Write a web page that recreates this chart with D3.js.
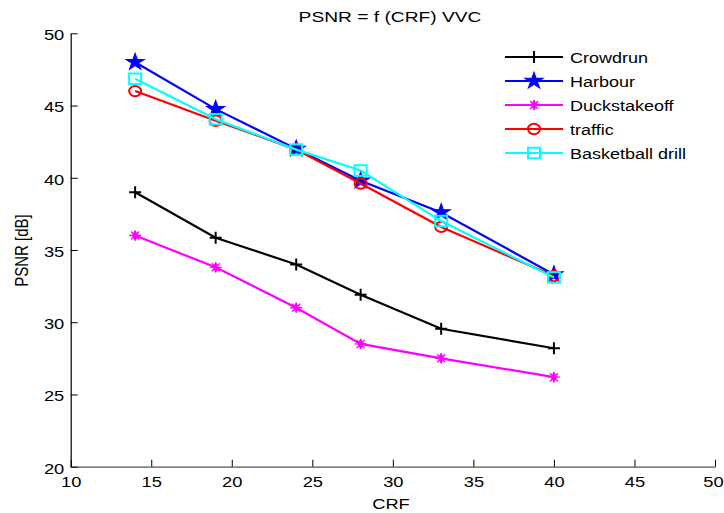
<!DOCTYPE html>
<html><head><meta charset="utf-8">
<script src="https://cdn.jsdelivr.net/npm/d3@7"></script>
<style>body{margin:0;background:#fff}svg{display:block;font-family:"Liberation Sans",Arial,sans-serif}</style>
</head><body>
<script>
const crf = [14, 19, 24, 28, 33, 40];
const crowdrun = [39.0, 35.85, 34.0, 31.9, 29.55, 28.2];
const harbour = [48.0, 44.75, 42.0, 39.8, 37.6, 33.3];
const duckstakeoff = [36.0, 33.8, 31.0, 28.5, 27.5, 26.2];
const traffic = [46.0, 43.95, 41.95, 39.6, 36.6, 33.2];
const basketball = [46.85, 44.05, 41.95, 40.5, 37.0, 33.1];
const seriesNames = ["Crowdrun", "Harbour", "Duckstakeoff", "traffic", "Basketball drill"];
const seriesColors = ["#000000", "#0000ff", "#ff00ff", "#ff0000", "#00ffff"];
const seriesMarkers = ["plus", "star", "asterisk", "circle", "square"];
const xTicks = [10, 15, 20, 25, 30, 35, 40, 45, 50];
const yTicks = [20, 25, 30, 35, 40, 45, 50];
const allSeries = [crowdrun, harbour, duckstakeoff, traffic, basketball];

const W = 724, H = 513;
const SX = 1.22; // horizontal stretch of the original figure's text
const svg = d3.select("body").append("svg").attr("width", W).attr("height", H);
const x = d3.scaleLinear().domain([10, 50]).range([70.7, 715]);
const y = d3.scaleLinear().domain([20, 50]).range([466.7, 33.3]);

// axes
const xAxis = d3.axisBottom(x).tickValues(xTicks).tickSize(0).tickPadding(10);
const gx = svg.append("g").attr("transform", "translate(0,466.7)").call(xAxis);
gx.select(".domain").attr("stroke", "#555").attr("stroke-width", 1.2);
gx.selectAll(".tick text").attr("font-size", 15).attr("fill", "#000")
  .attr("font-family", "Liberation Sans, Arial, sans-serif")
  .attr("transform", d => d === 50 ? `translate(-2,0) scale(${SX},1)` : `scale(${SX},1)`);
gx.selectAll(".tick").append("line").attr("y1", 0).attr("y2", -7).attr("stroke", "#000");

const yAxis = d3.axisLeft(y).tickValues(yTicks).tickSize(0).tickPadding(5.3);
const gy = svg.append("g").attr("transform", "translate(70.7,0)").call(yAxis);
gy.select(".domain").attr("stroke", "#000").attr("stroke-width", 1.2);
gy.selectAll(".tick text").attr("font-size", 15).attr("fill", "#000").attr("dy", "0.42em")
  .attr("font-family", "Liberation Sans, Arial, sans-serif").attr("transform", `scale(${SX},1)`);
gy.selectAll(".tick").append("line").attr("x1", 0).attr("x2", 7).attr("stroke", "#000");

// labels
svg.append("g").attr("transform", "translate(390,21.5) scale(1.28,1)")
  .append("text").attr("text-anchor", "middle").attr("font-size", 15).text("PSNR = f (CRF) VVC");
svg.append("g").attr("transform", `translate(391,509) scale(${SX},1)`)
  .append("text").attr("text-anchor", "middle").attr("font-size", 15).text("CRF");
svg.append("g").attr("transform", `translate(27.5,250.5) scale(${SX},1) rotate(-90)`)
  .append("text").attr("text-anchor", "middle").attr("font-size", 15).text("PSNR [dB]");

function drawMarker(g, type, color, cx, cy) {
  if (type === "plus") {
    g.append("path").attr("d", `M${cx-6},${cy}H${cx+6}M${cx},${cy-6}V${cy+6}`).attr("stroke", color).attr("stroke-width", 2).attr("fill", "none");
  } else if (type === "star") {
    const sym = d3.symbol().type(d3.symbolStar).size(85);
    g.append("path").attr("d", sym()).attr("transform", `translate(${cx},${cy}) scale(1.1,1)`).attr("fill", color).attr("stroke", color).attr("stroke-width", 1);
  } else if (type === "asterisk") {
    g.append("path").attr("d", d3.symbol().type(d3.symbolDiamond).size(36)()).attr("transform", `translate(${cx},${cy})`).attr("fill", color);
    g.append("path").attr("d", `M${cx-6},${cy}H${cx+6}M${cx},${cy-5}V${cy+5}M${cx-4},${cy-4}L${cx+4},${cy+4}M${cx-4},${cy+4}L${cx+4},${cy-4}`).attr("stroke", color).attr("stroke-width", 1.4);
  } else if (type === "circle") {
    g.append("ellipse").attr("cx", cx).attr("cy", cy).attr("rx", 6).attr("ry", 5.2).attr("fill", "none").attr("stroke", color).attr("stroke-width", 2);
  } else if (type === "square") {
    g.append("rect").attr("x", cx-6).attr("y", cy-5.3).attr("width", 12).attr("height", 10.6).attr("fill", "none").attr("stroke", color).attr("stroke-width", 2);
  }
}

const line = d3.line().x((d, i) => x(crf[i])).y(d => y(d));
allSeries.forEach((vals, si) => {
  const g = svg.append("g");
  g.append("path").datum(vals).attr("d", line).attr("fill", "none").attr("stroke", seriesColors[si]).attr("stroke-width", 2.2);
  vals.forEach((v, i) => drawMarker(g, seriesMarkers[si], seriesColors[si], x(crf[i]), y(v)));
});

// legend
const lg = svg.append("g");
seriesNames.forEach((name, i) => {
  const ly = 57 + i * 24;
  lg.append("line").attr("x1", 505).attr("x2", 563).attr("y1", ly).attr("y2", ly).attr("stroke", seriesColors[i]).attr("stroke-width", 2.2);
  drawMarker(lg, seriesMarkers[i], seriesColors[i], 534, ly);
  lg.append("g").attr("transform", `translate(570,${ly + 6}) scale(1.2,1)`)
    .append("text").attr("font-size", 15).text(name);
});
</script>
</body></html>
